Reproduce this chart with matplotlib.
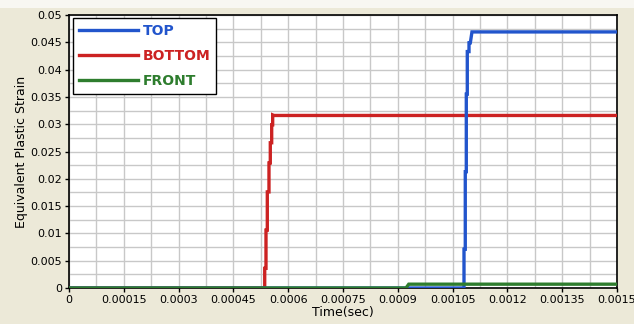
import matplotlib
matplotlib.use("Agg")
import matplotlib.pyplot as plt
from matplotlib.patches import Rectangle
import numpy as np

# Data (time in sec, strain)
top_t = [0.0, 0.0010812, 0.0010812, 0.0010847, 0.0010847, 0.0010875, 0.0010875,
         0.0010902, 0.0010902, 0.0010949, 0.0010949, 0.0010985, 0.001103, 0.0015]
top_s = [0.0, 0.0, 0.0071, 0.0071, 0.0213, 0.0213, 0.0355,
         0.0355, 0.0433, 0.0433, 0.0449, 0.0449, 0.0469, 0.0469]

bot_t = [0.0, 0.0005357, 0.0005357, 0.0005392, 0.0005392, 0.0005428, 0.0005428,
         0.0005474, 0.0005474, 0.000551, 0.000551, 0.0005548, 0.0005548, 0.0005575,
         0.0005575, 0.000561, 0.0015]
bot_s = [0.0, 0.0, 0.0036, 0.0036, 0.0106, 0.0106, 0.0176,
         0.0176, 0.0229, 0.0229, 0.0266, 0.0266, 0.0299, 0.0299,
         0.0317, 0.0316, 0.0316]

front_t = [0.0, 0.0009224, 0.00093, 0.0015]
front_s = [0.0, 0.0, 0.0007, 0.0007]

xticks = [0, 0.00015, 0.0003, 0.00045, 0.0006, 0.00075, 0.0009, 0.00105, 0.0012, 0.00135, 0.0015]
xticklabels = ["0", "0.00015", "0.0003", "0.00045", "0.0006", "0.00075", "0.0009",
               "0.00105", "0.0012", "0.00135", "0.0015"]
yticks = [0, 0.005, 0.01, 0.015, 0.02, 0.025, 0.03, 0.035, 0.04, 0.045, 0.05]
yticklabels = ["0", "0.005", "0.01", "0.015", "0.02", "0.025", "0.03", "0.035", "0.04", "0.045", "0.05"]

W, H = 634, 324
fig = plt.figure(figsize=(W / 100, H / 100), dpi=100)
fig.patch.set_facecolor("#ECE9D8")
fig.add_artist(Rectangle((0, 1 - 8 / H), 1, 8 / H, transform=fig.transFigure,
                         facecolor="#F8F7F2", edgecolor="none", zorder=0))

AW, AH = 617 - 69, 288 - 15
ax = fig.add_axes([69 / W, 1 - 288 / H, AW / W, AH / H])
ax.set_facecolor("white")

ax.plot(top_t, top_s, color="#2255CC", lw=2.4, label="TOP", solid_joinstyle="miter", zorder=4)
ax.plot(bot_t, bot_s, color="#CC2222", lw=2.4, label="BOTTOM", solid_joinstyle="miter", zorder=3)
ax.plot(front_t, front_s, color="#2E7D2E", lw=2.4, label="FRONT", solid_joinstyle="miter", zorder=5)

ax.set_xlim(0, 0.0015)
ax.set_ylim(0, 0.05)
ax.set_xticks(xticks)
ax.set_xticklabels(xticklabels)
ax.set_yticks(yticks)
ax.set_yticklabels(yticklabels)
ax.set_xticks(np.arange(0, 0.0015001, 0.000075), minor=True)
ax.set_yticks(np.arange(0, 0.0500001, 0.0025), minor=True)
ax.grid(True, which="both", color="#C8C8C8", lw=1.0, zorder=0)
ax.set_axisbelow(True)
ax.tick_params(axis="both", which="major", direction="out", length=3, width=1,
               labelsize=8, color="black", pad=2)
ax.tick_params(axis="both", which="minor", length=0)
for s in ax.spines.values():
    s.set_color("black")
    s.set_linewidth(1.2)

ax.set_xlabel("Time(sec)", fontsize=9, labelpad=1)
ax.set_ylabel("Equivalent Plastic Strain", fontsize=9, labelpad=2)

leg = ax.legend(loc="upper left", bbox_to_anchor=(4 / AW, 1 - 3 / AH), handlelength=4.25,
                handletextpad=0.3, fontsize=10, frameon=True, fancybox=False,
                borderpad=0.45, labelspacing=0.78, borderaxespad=0.0)
leg.get_frame().set_edgecolor("black")
leg.get_frame().set_linewidth(1.0)
leg.get_frame().set_alpha(1)
for txt, line in zip(leg.get_texts(), leg.get_lines()):
    txt.set_color(line.get_color())
    txt.set_fontweight("bold")

fig.savefig("out.png", dpi=100, facecolor=fig.get_facecolor())
